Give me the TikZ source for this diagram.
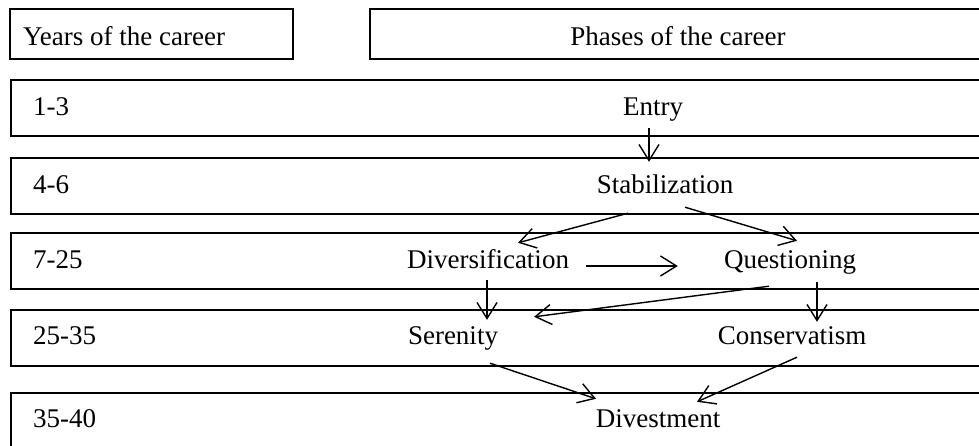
\documentclass[tikz,border=0pt]{standalone}
\usepackage{fontspec}
\setmainfont{Liberation Serif}
\usetikzlibrary{arrows.meta}

\begin{document}
\begin{tikzpicture}[x=1pt,y=-1pt,>={Straight Barb[length=16pt,width=20pt]},
                    font=\fontsize{27}{31}\selectfont]
  \tikzstyle{every node}=[inner sep=0pt]
  \tikzstyle{tablebox}=[draw,line width=1.8pt,rectangle,anchor=north west,minimum height=56pt]
  \tikzstyle{years}=[anchor=base west]
  \tikzstyle{phase}=[anchor=base,text height=18pt,text depth=6pt]
  \tikzstyle{flow}=[->,line width=1.4pt]

  \useasboundingbox (0,0) rectangle (979,445);
  \clip (0,0) rectangle (979,445);

  % header
  \node[tablebox,minimum width=283pt,minimum height=50pt] (hyears)  at (9,8)   {};
  \node[tablebox,minimum width=618pt,minimum height=50pt] (hphases) at (369,8) {};
  \node[years] (tyears)  at (23,45)  {Years of the career};
  \node[phase] (tphases) at (678,45) {Phases of the career};

  % rows
  \node[tablebox,minimum width=977pt] (row1) at (10,79)  {};
  \node[tablebox,minimum width=977pt] (row2) at (10,157) {};
  \node[tablebox,minimum width=977pt] (row3) at (10,232) {};
  \node[tablebox,minimum width=977pt] (row4) at (10,309) {};
  \node[tablebox,minimum width=977pt] (row5) at (10,392) {};

  \node[years] (y1) at (33,115) {1-3};
  \node[years] (y2) at (33,193) {4-6};
  \node[years] (y3) at (33,268) {7-25};
  \node[years] (y4) at (33,344) {25-35};
  \node[years] (y5) at (33,427) {35-40};

  % phases
  \node[phase] (entry)   at (653,115) {Entry};
  \node[phase] (stab)    at (665,193) {Stabilization};
  \node[phase] (div)     at (488,268) {Diversification};
  \node[phase] (quest)   at (790,268) {Questioning};
  \node[phase] (seren)   at (453,344) {Serenity};
  \node[phase] (conserv) at (792,344) {Conservatism};
  \node[phase] (divest)  at (658,427) {Divestment};

  \path[flow] ([shift={(-4,7)}]entry.south) edge ([shift={(-16,-13)}]stab.north)
        ([shift={(-37,14)}]stab.south) edge ([shift={(30,-7)}]div.north)
        ([shift={(20,8)}]stab.south)   edge ([shift={(7,-9)}]quest.north)
        ([shift={(17,4)}]div.east)     edge ([shift={(-46,4)}]quest.west)
        ([shift={(-1,6)}]div.south)    edge ([shift={(34,-6)}]seren.north)
        ([shift={(-21,12)}]quest.south) edge ([shift={(81,-9)}]seren.north)
        ([shift={(27,8)}]quest.south)  edge ([shift={(25,-4)}]conserv.north)
        ([shift={(37,13)}]seren.south) edge ([shift={(-62,-10)}]divest.north)
        ([shift={(5,7)}]conserv.south) edge ([shift={(39,-7)}]divest.north);
\end{tikzpicture}
\end{document}
